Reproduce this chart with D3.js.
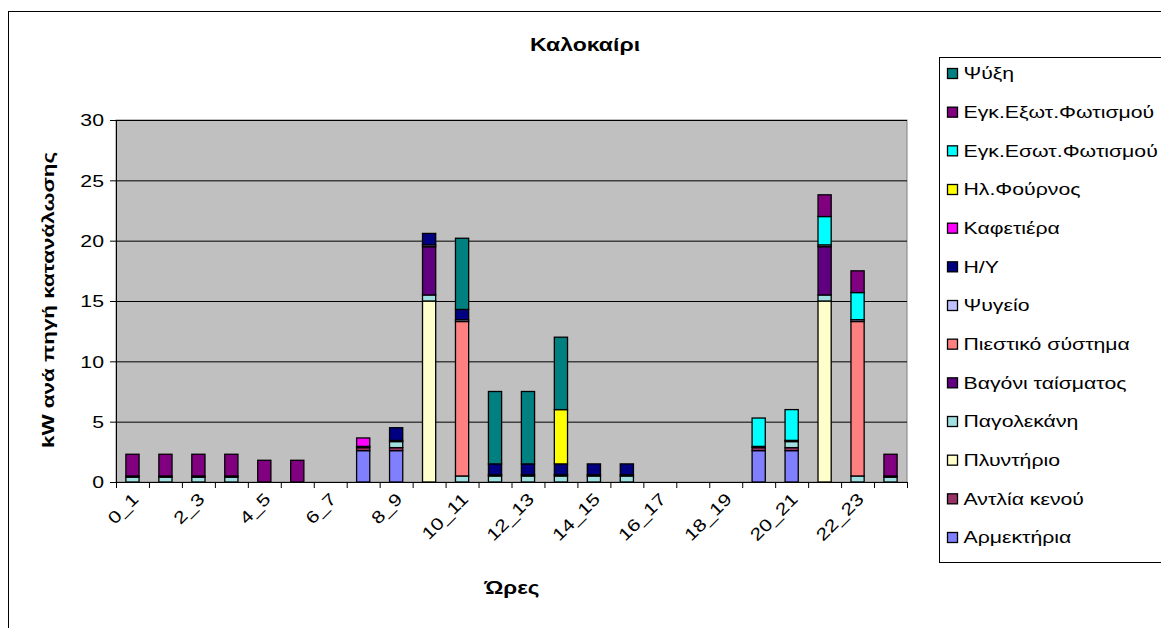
<!DOCTYPE html>
<html>
<head>
<meta charset="utf-8">
<script src="https://cdn.jsdelivr.net/npm/d3@7"></script>
<style>
  html, body { margin: 0; padding: 0; background: #fff; }
  svg { display: block; font-family: "Liberation Sans", Arial, sans-serif; }
</style>
</head>
<body>
<svg id="chart" width="1161" height="628"></svg>
<script>
// Hourly time slots (category axis)
const categories = ["0_1","1_2","2_3","3_4","4_5","5_6","6_7","7_8","8_9","9_10","10_11","11_12",
                    "12_13","13_14","14_15","15_16","16_17","17_18","18_19","19_20","20_21","21_22","22_23","23_24"];

// kW per consumption source, one value per time slot
const armektiria   = [0,0,0,0,0,0,0,2.6,2.6,0,0,0,0,0,0,0,0,0,0,2.6,2.6,0,0,0];
const antliaKenou  = [0,0,0,0,0,0,0,0.25,0.25,0,0,0,0,0,0,0,0,0,0,0.25,0.25,0,0,0];
const plyntirio    = [0,0,0,0,0,0,0,0,0,15,0,0,0,0,0,0,0,0,0,0,0,15,0,0];
const pagolekani   = [0.4,0.4,0.4,0.4,0,0,0,0,0.5,0.5,0.5,0.5,0.5,0.5,0.5,0.5,0,0,0,0,0.5,0.5,0.5,0.4];
const vagoni       = [0,0,0,0,0,0,0,0,0,4.0,0,0,0,0,0,0,0,0,0,0,0,4.0,0,0];
const piestiko     = [0,0,0,0,0,0,0,0,0,0,12.8,0,0,0,0,0,0,0,0,0,0,0,12.8,0];
const psygeio      = [0.1,0.1,0.1,0.1,0,0,0,0.1,0.1,0.15,0.15,0.1,0.1,0.1,0.1,0.1,0,0,0,0.1,0.1,0.15,0.15,0.1];
const hy           = [0,0,0,0,0,0,0,0,1.05,0.95,0.85,0.9,0.9,0.9,0.9,0.9,0,0,0,0,0,0,0,0];
const kafetiera    = [0,0,0,0,0,0,0,0.7,0,0,0,0,0,0,0,0,0,0,0,0,0,0,0,0];
const fournos      = [0,0,0,0,0,0,0,0,0,0,0,0,0,4.5,0,0,0,0,0,0,0,0,0,0];
const esoFotismos  = [0,0,0,0,0,0,0,0,0,0,0,0,0,0,0,0,0,0,0,2.35,2.55,2.35,2.25,0];
const exoFotismos  = [1.8,1.8,1.8,1.8,1.8,1.8,0,0,0,0,0,0,0,0,0,0,0,0,0,0,0,1.8,1.8,1.8];
const psyxi        = [0,0,0,0,0,0,0,0,0,0,5.9,6.0,6.0,6.0,0,0,0,0,0,0,0,0,0,0];

// Series names, stacked bottom to top
const seriesNames = ["Αρμεκτήρια","Αντλία κενού","Πλυντήριο","Παγολεκάνη","Βαγόνι ταίσματος",
                     "Πιεστικό σύστημα","Ψυγείο","Η/Υ","Καφετιέρα","Ηλ.Φούρνος",
                     "Εγκ.Εσωτ.Φωτισμού","Εγκ.Εξωτ.Φωτισμού","Ψύξη"];
const seriesValues = [armektiria, antliaKenou, plyntirio, pagolekani, vagoni, piestiko, psygeio,
                      hy, kafetiera, fournos, esoFotismos, exoFotismos, psyxi];
const seriesColors = ["#8080ff","#993366","#ffffcc","#a0e0e0","#600080","#ff8080","#c0c0ff",
                      "#000080","#ff00ff","#ffff00","#00ffff","#800080","#008080"];

const yTicks = [0,5,10,15,20,25,30];

const svg = d3.select("#chart");
const W = 1161, H = 628;
const plot = { left: 116, right: 907, top: 120, bottom: 482 };
const SX = 1.25;          // horizontal widening applied to all text
const FS = 17;            // base font size

// Places a text element at (x,y) with optional rotation, widened horizontally
function label(parent, x, y, str, opts = {}) {
  const rot = opts.rotate ? ` rotate(${opts.rotate})` : "";
  return parent.append("text")
    .attr("transform", `translate(${x},${y})${rot} scale(${opts.sx || SX},1)`)
    .attr("text-anchor", opts.anchor || "start")
    .attr("dy", opts.dy || "0.35em")
    .attr("font-size", opts.size || FS)
    .attr("font-weight", opts.bold ? "bold" : "normal")
    .attr("fill", "#000")
    .text(str);
}

// Chart area frame
svg.append("rect").attr("x", 0).attr("y", 0).attr("width", W).attr("height", H).attr("fill", "#fff");
svg.append("rect").attr("x", 8.5).attr("y", 11.5).attr("width", 1300).attr("height", 800)
   .attr("fill", "#fff").attr("stroke", "#000").attr("stroke-width", 1);

// Build table rows for stacking
const rows = categories.map((c, i) => {
  const r = { cat: c };
  seriesNames.forEach((n, s) => { r[n] = seriesValues[s][i]; });
  return r;
});
const stacked = d3.stack().keys(seriesNames)(rows);

const x = d3.scaleBand().domain(categories).range([plot.left, plot.right])
            .paddingInner(0.6).paddingOuter(0.3);
const y = d3.scaleLinear().domain([0, 30]).range([plot.bottom, plot.top]);
const color = d3.scaleOrdinal().domain(seriesNames).range(seriesColors);

// Plot background
svg.append("rect").attr("x", plot.left).attr("y", plot.top)
   .attr("width", plot.right - plot.left).attr("height", plot.bottom - plot.top)
   .attr("fill", "#c0c0c0").attr("stroke", "#808080").attr("stroke-width", 1);

// Horizontal gridlines
svg.append("g").attr("transform", `translate(${plot.left},0)`)
   .call(d3.axisLeft(y).tickValues(yTicks).tickSize(-(plot.right - plot.left)).tickFormat(""))
   .call(g => g.select(".domain").remove())
   .call(g => g.selectAll("line").attr("stroke", "#000"));

// Stacked bars
const layers = svg.append("g").selectAll("g").data(stacked).join("g")
   .attr("fill", d => color(d.key));
layers.selectAll("rect").data(d => d.map((p, i) => ({ p, cat: categories[i] })).filter(o => o.p[1] - o.p[0] > 0))
   .join("rect")
   .attr("x", o => x(o.cat))
   .attr("width", x.bandwidth())
   .attr("y", o => y(o.p[1]))
   .attr("height", o => y(o.p[0]) - y(o.p[1]))
   .attr("stroke", "#000").attr("stroke-width", 1.3);

// Y axis (ticks and line from the axis generator, labels widened)
const yAxis = svg.append("g").attr("transform", `translate(${plot.left},0)`)
   .call(d3.axisLeft(y).tickValues(yTicks).tickSize(6).tickFormat(""))
   .call(g => g.select(".domain").attr("stroke", "#000"));
yAxis.selectAll(".tick").each(function (d) {
  label(d3.select(this), -12, 0, String(d), { anchor: "end", size: 17 });
});

// X axis: tick marks on category boundaries
const xb = d3.scaleLinear().domain([0, categories.length]).range([plot.left, plot.right]);
svg.append("g").attr("transform", `translate(0,${plot.bottom})`)
   .call(d3.axisBottom(xb).ticks(categories.length).tickSize(6).tickFormat(""))
   .call(g => g.select(".domain").attr("stroke", "#000"));

// X axis: every other slot labelled, rotated 45 degrees
const xLabels = svg.append("g");
categories.forEach((c, i) => {
  if (i % 2 !== 0) return;
  const cx = x(c) + x.bandwidth() / 2;
  label(xLabels, cx + 3, plot.bottom + 14, c, { anchor: "end", rotate: -45, size: 17 });
});

// Titles
label(svg, 585, 45, "Καλοκαίρι", { anchor: "middle", bold: true, size: 18, sx: 1.28 });
label(svg, 512, 588, "Ώρες", { anchor: "middle", bold: true, size: 18 });
label(svg, 48, 300, "kW ανά πηγή κατανάλωσης", { anchor: "middle", bold: true, size: 17, rotate: -90, sx: 1.32 });

// Legend (top entry = top of stack)
const legend = svg.append("g").attr("transform", "translate(939.5,57.5)");
legend.append("rect").attr("width", 400).attr("height", 505)
   .attr("fill", "#fff").attr("stroke", "#000").attr("stroke-width", 1);
const legendItems = seriesNames.slice().reverse();
const ly = d3.scalePoint().domain(legendItems).range([16, 480]);
legendItems.forEach(name => {
  const g = legend.append("g").attr("transform", `translate(0,${ly(name)})`);
  g.append("rect").attr("x", 8).attr("y", -5).attr("width", 10).attr("height", 10)
   .attr("fill", color(name)).attr("stroke", "#000").attr("stroke-width", 1.3);
  label(g, 24, 0, name, { size: 17 });
});
</script>
</body>
</html>
